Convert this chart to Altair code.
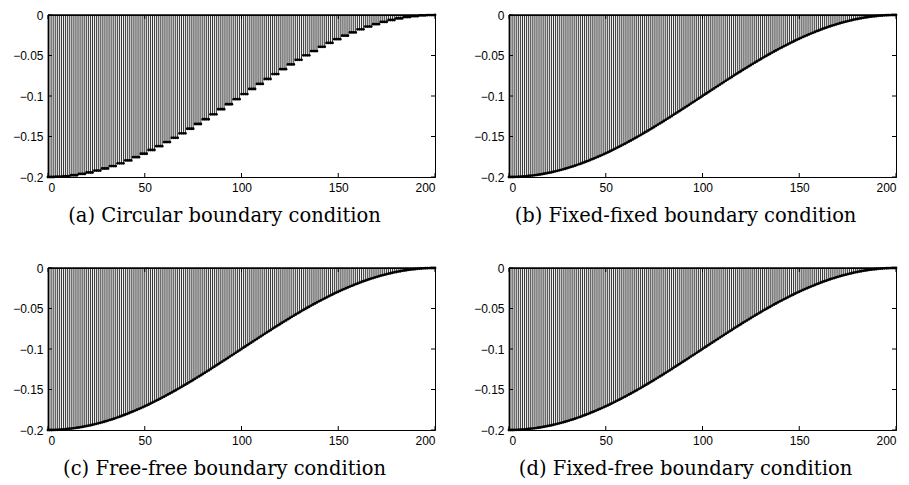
import altair as alt
import pandas as pd

SAMPLES = list(range(201))

# (a) circular boundary condition: values held in steps of four samples
CIRCULAR = [
    -0.2000, -0.2000, -0.2000, -0.2000, -0.1996, -0.1996, -0.1996, -0.1996,
    -0.1989, -0.1989, -0.1989, -0.1989, -0.1978, -0.1978, -0.1978, -0.1978,
    -0.1962, -0.1962, -0.1962, -0.1962, -0.1944, -0.1944, -0.1944, -0.1944,
    -0.1921, -0.1921, -0.1921, -0.1921, -0.1895, -0.1895, -0.1895, -0.1895,
    -0.1865, -0.1865, -0.1865, -0.1865, -0.1831, -0.1831, -0.1831, -0.1831,
    -0.1795, -0.1795, -0.1795, -0.1795, -0.1755, -0.1755, -0.1755, -0.1755,
    -0.1713, -0.1713, -0.1713, -0.1713, -0.1667, -0.1667, -0.1667, -0.1667,
    -0.1619, -0.1619, -0.1619, -0.1619, -0.1569, -0.1569, -0.1569, -0.1569,
    -0.1516, -0.1516, -0.1516, -0.1516, -0.1461, -0.1461, -0.1461, -0.1461,
    -0.1404, -0.1404, -0.1404, -0.1404, -0.1346, -0.1346, -0.1346, -0.1346,
    -0.1287, -0.1287, -0.1287, -0.1287, -0.1226, -0.1226, -0.1226, -0.1226,
    -0.1164, -0.1164, -0.1164, -0.1164, -0.1102, -0.1102, -0.1102, -0.1102,
    -0.1039, -0.1039, -0.1039, -0.1039, -0.0976, -0.0976, -0.0976, -0.0976,
    -0.0914, -0.0914, -0.0914, -0.0914, -0.0851, -0.0851, -0.0851, -0.0851,
    -0.0790, -0.0790, -0.0790, -0.0790, -0.0729, -0.0729, -0.0729, -0.0729,
    -0.0669, -0.0669, -0.0669, -0.0669, -0.0610, -0.0610, -0.0610, -0.0610,
    -0.0553, -0.0553, -0.0553, -0.0553, -0.0498, -0.0498, -0.0498, -0.0498,
    -0.0445, -0.0445, -0.0445, -0.0445, -0.0393, -0.0393, -0.0393, -0.0393,
    -0.0345, -0.0345, -0.0345, -0.0345, -0.0298, -0.0298, -0.0298, -0.0298,
    -0.0255, -0.0255, -0.0255, -0.0255, -0.0215, -0.0215, -0.0215, -0.0215,
    -0.0177, -0.0177, -0.0177, -0.0177, -0.0143, -0.0143, -0.0143, -0.0143,
    -0.0113, -0.0113, -0.0113, -0.0113, -0.0085, -0.0085, -0.0085, -0.0085,
    -0.0062, -0.0062, -0.0062, -0.0062, -0.0042, -0.0042, -0.0042, -0.0042,
    -0.0026, -0.0026, -0.0026, -0.0026, -0.0014, -0.0014, -0.0014, -0.0014,
    -0.0005, -0.0005, -0.0005, -0.0005, -0.0001, -0.0001, -0.0001, -0.0001,
    0.0000,
]

# (b), (c), (d): smooth curves (they look the same in all three panels)
SMOOTH = [
    -0.2000, -0.2000, -0.2000, -0.1999, -0.1998, -0.1997, -0.1996, -0.1994, -0.1992, -0.1990,
    -0.1988, -0.1985, -0.1982, -0.1979, -0.1976, -0.1972, -0.1969, -0.1965, -0.1960, -0.1956,
    -0.1951, -0.1946, -0.1941, -0.1935, -0.1930, -0.1924, -0.1918, -0.1911, -0.1905, -0.1898,
    -0.1891, -0.1884, -0.1876, -0.1869, -0.1861, -0.1853, -0.1844, -0.1836, -0.1827, -0.1818,
    -0.1809, -0.1800, -0.1790, -0.1780, -0.1771, -0.1760, -0.1750, -0.1740, -0.1729, -0.1718,
    -0.1707, -0.1696, -0.1685, -0.1673, -0.1661, -0.1649, -0.1637, -0.1625, -0.1613, -0.1600,
    -0.1588, -0.1575, -0.1562, -0.1549, -0.1536, -0.1522, -0.1509, -0.1495, -0.1482, -0.1468,
    -0.1454, -0.1440, -0.1426, -0.1412, -0.1397, -0.1383, -0.1368, -0.1353, -0.1339, -0.1324,
    -0.1309, -0.1294, -0.1279, -0.1264, -0.1249, -0.1233, -0.1218, -0.1203, -0.1187, -0.1172,
    -0.1156, -0.1141, -0.1125, -0.1110, -0.1094, -0.1078, -0.1063, -0.1047, -0.1031, -0.1016,
    -0.1000, -0.0984, -0.0969, -0.0953, -0.0937, -0.0922, -0.0906, -0.0890, -0.0875, -0.0859,
    -0.0844, -0.0828, -0.0813, -0.0797, -0.0782, -0.0767, -0.0751, -0.0736, -0.0721, -0.0706,
    -0.0691, -0.0676, -0.0661, -0.0647, -0.0632, -0.0617, -0.0603, -0.0588, -0.0574, -0.0560,
    -0.0546, -0.0532, -0.0518, -0.0505, -0.0491, -0.0478, -0.0464, -0.0451, -0.0438, -0.0425,
    -0.0412, -0.0400, -0.0387, -0.0375, -0.0363, -0.0351, -0.0339, -0.0327, -0.0315, -0.0304,
    -0.0293, -0.0282, -0.0271, -0.0260, -0.0250, -0.0240, -0.0229, -0.0220, -0.0210, -0.0200,
    -0.0191, -0.0182, -0.0173, -0.0164, -0.0156, -0.0147, -0.0139, -0.0131, -0.0124, -0.0116,
    -0.0109, -0.0102, -0.0095, -0.0089, -0.0082, -0.0076, -0.0070, -0.0065, -0.0059, -0.0054,
    -0.0049, -0.0044, -0.0040, -0.0035, -0.0031, -0.0028, -0.0024, -0.0021, -0.0018, -0.0015,
    -0.0012, -0.0010, -0.0008, -0.0006, -0.0004, -0.0003, -0.0002, -0.0001, 0.0000, 0.0000,
    0.0000,
]
FIXED_FIXED = SMOOTH
FREE_FREE = SMOOTH
FIXED_FREE = SMOOTH

TITLES = [
    "(a) Circular boundary condition",
    "(b) Fixed-fixed boundary condition",
    "(c) Free-free boundary condition",
    "(d) Fixed-free boundary condition",
]
X_TICKS = [0, 50, 100, 150, 200]
Y_TICKS = [0, -0.05, -0.1, -0.15, -0.2]
X_DOMAIN = [0, 200]
Y_DOMAIN = [-0.2, 0]

W, H = 387, 162
TICK_LEN = 4

xscale = alt.Scale(domain=X_DOMAIN, nice=False, zero=False)
yscale = alt.Scale(domain=Y_DOMAIN, nice=False, zero=False)
xaxis = alt.Axis(values=X_TICKS, title=None, format="d")
yaxis = alt.Axis(values=Y_TICKS, title=None, format="~g")


def X(field="x"):
    return alt.X(f"{field}:Q", scale=xscale, axis=xaxis)


def Y(field="y"):
    return alt.Y(f"{field}:Q", scale=yscale, axis=yaxis)


def panel(values, title):
    df = pd.DataFrame({"x": SAMPLES, "y": values})
    base = alt.Chart(df)
    stems = base.mark_rule(color="black", strokeWidth=0.8).encode(
        x=X(), y=Y(), y2=alt.datum(0)
    )
    dots = base.mark_circle(color="black", size=8, opacity=1).encode(x=X(), y=Y())
    line0 = alt.Chart(pd.DataFrame({"x": [X_DOMAIN[0]], "x2": [X_DOMAIN[1]], "y": [0]})).mark_rule(
        color="black", strokeWidth=1.5
    ).encode(x=X(), x2="x2:Q", y=Y())

    xt = alt.Chart(pd.DataFrame({"x": X_TICKS}))
    yt = alt.Chart(pd.DataFrame({"y": Y_TICKS}))
    xt_bottom = xt.mark_rule(color="black").encode(
        x=X(), y=alt.value(H), y2=alt.value(H - TICK_LEN)
    )
    xt_top = xt.mark_rule(color="black").encode(
        x=X(), y=alt.value(0), y2=alt.value(TICK_LEN)
    )
    yt_left = yt.mark_rule(color="black").encode(
        y=Y(), x=alt.value(0), x2=alt.value(TICK_LEN)
    )
    yt_right = yt.mark_rule(color="black").encode(
        y=Y(), x=alt.value(W), x2=alt.value(W - TICK_LEN)
    )
    return alt.layer(stems, line0, dots, xt_bottom, xt_top, yt_left, yt_right).properties(
        width=W,
        height=H,
        title=alt.TitleParams(
            text=title,
            orient="bottom",
            anchor="middle",
            frame="bounds",
            font="DejaVu Serif",
            fontSize=19.5,
            fontWeight="normal",
            color="black",
            offset=14,
        ),
    )


pa = panel(CIRCULAR, TITLES[0])
pb = panel(FIXED_FIXED, TITLES[1])
pc = panel(FREE_FREE, TITLES[2])
pd_ = panel(FIXED_FREE, TITLES[3])

row1 = alt.hconcat(pa, pb, spacing=74, bounds="flush")
row2 = alt.hconcat(pc, pd_, spacing=74, bounds="flush")

chart = (
    alt.vconcat(row1, row2, spacing=35)
    .properties(padding={"left": 4, "top": 0, "right": 0, "bottom": 0}, background="white")
    .configure_axis(
        domain=True,
        domainColor="black",
        domainWidth=1,
        ticks=False,
        grid=False,
        labelFont="Liberation Sans",
        labelFontSize=12,
        labelColor="black",
        labelPadding=5,
    )
    .configure_view(stroke="black", strokeWidth=1)
)

chart.save("out.html", embed_options={"renderer": "svg", "actions": False})
